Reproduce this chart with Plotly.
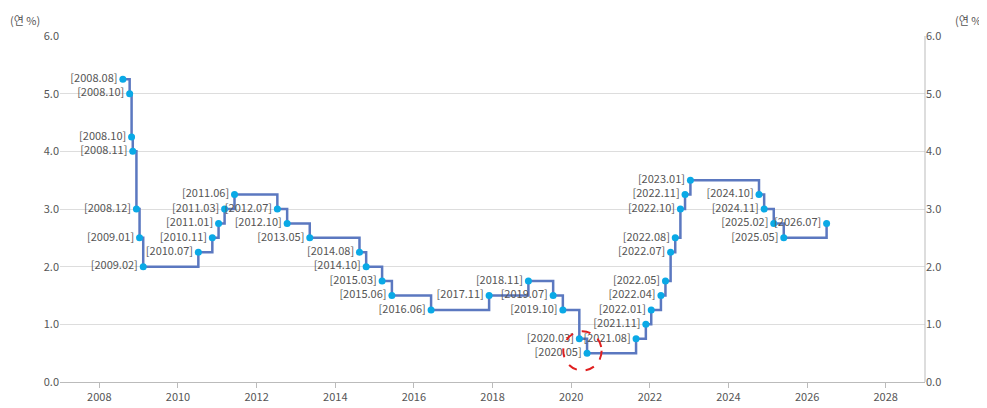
import plotly.graph_objects as go

# data
dates = ["2008-08-07", "2008-10-09", "2008-10-27", "2008-11-07", "2008-12-11",
         "2009-01-09", "2009-02-12", "2010-07-09", "2010-11-16", "2011-01-13",
         "2011-03-10", "2011-06-10", "2012-07-12", "2012-10-11", "2013-05-09",
         "2014-08-14", "2014-10-15", "2015-03-12", "2015-06-11", "2016-06-09",
         "2017-11-30", "2018-11-30", "2019-07-18", "2019-10-16", "2020-03-17",
         "2020-05-28", "2021-08-26", "2021-11-25", "2022-01-14", "2022-04-14",
         "2022-05-26", "2022-07-13", "2022-08-25", "2022-10-12", "2022-11-24",
         "2023-01-13", "2024-10-11", "2024-11-28", "2025-02-25", "2025-05-29",
         "2026-07-01"]
rates = [5.25, 5.00, 4.25, 4.00, 3.00, 2.50, 2.00, 2.25, 2.50, 2.75,
         3.00, 3.25, 3.00, 2.75, 2.50, 2.25, 2.00, 1.75, 1.50, 1.25,
         1.50, 1.75, 1.50, 1.25, 0.75, 0.50, 0.75, 1.00, 1.25, 1.50,
         1.75, 2.25, 2.50, 3.00, 3.25, 3.50, 3.25, 3.00, 2.75, 2.50,
         2.75]
labels = ["[" + d[:7].replace("-", ".") + "]" for d in dates]

grey = "#555555"
fig = go.Figure()
fig.add_trace(go.Scatter(x=dates, y=rates, mode="lines", line=dict(color="#5b78c0", width=2.5, shape="hv"),
                         hoverinfo="skip", showlegend=False))
fig.add_trace(go.Scatter(x=dates, y=rates, mode="markers+text", text=labels, textposition="middle left",
                         textfont=dict(size=11, color=grey),
                         marker=dict(color="#0aa9e6", size=7), showlegend=False))
# invisible trace for right axis
fig.add_trace(go.Scatter(x=[dates[0]], y=[0], yaxis="y2", mode="markers", marker=dict(opacity=0),
                         hoverinfo="skip", showlegend=False))

fig.add_shape(type="circle", xref="x", yref="y", x0="2019-10-20", x1="2020-10-10", y0=0.2, y1=0.88,
              line=dict(color="#e02020", width=2, dash="dash"))

ax = dict(range=[0, 6], dtick=1, tickformat=".1f", showline=False, zeroline=False,
          gridcolor="#dddddd", tickfont=dict(size=11, color=grey))
fig.update_layout(
    width=987, height=408, plot_bgcolor="white", paper_bgcolor="white",
    margin=dict(l=60, r=72, t=28, b=27),
    font=dict(family="Noto Sans CJK KR, sans-serif", color=grey),
    xaxis=dict(range=["2007-01-01", "2028-12-31"], dtick="M24", tick0="2008-01-01", tickformat="%Y",
               showgrid=False, showline=True, linecolor="#bbbbbb", ticks="outside", ticklen=5,
               tickcolor="#bbbbbb", tickfont=dict(size=11, color=grey)),
    yaxis=dict(**ax, ticks=""),
    yaxis2=dict(**ax, overlaying="y", side="right", showgrid=False),
    annotations=[
        dict(text="(연 %)", xref="paper", yref="paper", x=0, y=1.0, xshift=-52, yshift=6, showarrow=False,
             xanchor="left", yanchor="bottom", font=dict(size=11, color=grey)),
        dict(text="(연 %)", xref="paper", yref="paper", x=1, y=1.0, xshift=62, yshift=6, showarrow=False,
             xanchor="right", yanchor="bottom", font=dict(size=11, color=grey)),
    ],
)
fig.update_layout(margin=dict(l=52, r=70, t=28, b=27))
fig.add_shape(type="line", xref="paper", yref="paper", x0=1, x1=1, y0=0, y1=1, line=dict(color="#bbbbbb", width=1))
fig.write_html("out.html")
